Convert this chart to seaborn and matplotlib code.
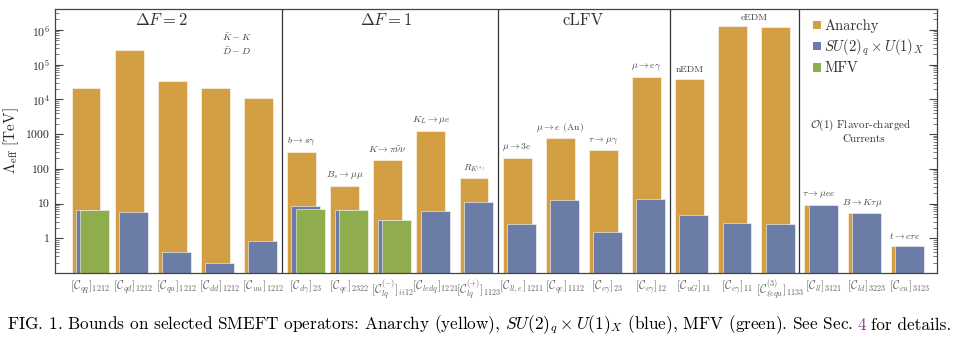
import numpy as np
import pandas as pd
import matplotlib
matplotlib.use("Agg")
import matplotlib.pyplot as plt
import seaborn as sns
from matplotlib.patches import Patch
from matplotlib.ticker import FixedLocator, LogLocator, NullFormatter

nan = np.nan

operators = [
    r"$[\mathcal{C}_{qq}]_{1212}$", r"$[\mathcal{C}_{qd}]_{1212}$", r"$[\mathcal{C}_{qu}]_{1212}$",
    r"$[\mathcal{C}_{dd}]_{1212}$", r"$[\mathcal{C}_{uu}]_{1212}$",
    r"$[\mathcal{C}_{d\gamma}]_{23}$", r"$[\mathcal{C}_{qe}]_{2322}$", r"$[\mathcal{C}^{(-)}_{lq}]_{ii12}$",
    r"$[\mathcal{C}_{ledq}]_{1221}$", r"$[\mathcal{C}^{(+)}_{lq}]_{1123}$",
    r"$[\mathcal{C}_{ll,e}]_{1211}$", r"$[\mathcal{C}_{qe}]_{1112}$", r"$[\mathcal{C}_{e\gamma}]_{23}$",
    r"$[\mathcal{C}_{e\gamma}]_{12}$",
    r"$[\mathcal{C}_{uG}]_{11}$", r"$[\mathcal{C}_{e\gamma}]_{11}$", r"$[\mathcal{C}^{(3)}_{\ell equ}]_{1133}$",
    r"$[\mathcal{C}_{ll}]_{3121}$", r"$[\mathcal{C}_{ld}]_{3223}$", r"$[\mathcal{C}_{eu}]_{3123}$",
]
anarchy = [2.1e4, 2.7e5, 3.3e4, 2.1e4, 1.1e4,
           300, 32, 178, 1200, 53,
           208, 750, 337, 4.4e4,
           3.9e4, 1.26e6, 1.18e6,
           9.1, 5.2, 0.6]
su2_u1 = [6.5, 5.7, 0.40, 0.19, 0.86,
          8.7, 6.5, 3.3, 6.3, 11,
          2.6, 13, 1.55, 13.8,
          4.7, 2.7, 2.5,
          9.1, 5.2, 0.6]
mfv = [6.5, nan, nan, nan, nan,
       6.9, 6.5, 3.3, nan, nan,
       nan, nan, nan, nan,
       nan, nan, nan,
       nan, nan, nan]

group_sizes = [5, 5, 4, 3, 3]
group_titles = [r"$\Delta F = 2$", r"$\Delta F = 1$", "cLFV"]
process_labels = [
    (5, r"$b\to s\gamma$"), (6, r"$B_s\to\mu\mu$"), (7, r"$K\to\pi\bar{\nu}\nu$"),
    (8, r"$K_L\to\mu e$"), (9, r"$R_{K^{(*)}}$"), (10, r"$\mu\to 3e$"),
    (11, r"$\mu\to e$ (Au)"), (12, r"$\tau\to\mu\gamma$"), (13, r"$\mu\to e\gamma$"),
    (14, "nEDM"), (15.5, "eEDM"), (17, r"$\tau\to\mu ee$"),
    (18, r"$B\to K\tau\mu$"), (19, r"$t\to c\tau e$"),
]
series_names = ["Anarchy", r"$SU(2)_q\times U(1)_X$", "MFV"]
series_colors = ["#D49E42", "#6B7DA6", "#8FAD4C"]

sns.set_theme(style="white")
plt.rcParams["font.family"] = ["cmr10", "DejaVu Serif"]
plt.rcParams["mathtext.fontset"] = "cm"
plt.rcParams["axes.formatter.use_mathtext"] = True
plt.rcParams["axes.unicode_minus"] = False

fig = plt.figure(figsize=(9.6, 3.44), dpi=100)
ax = fig.add_axes([55 / 960, 1 - 273 / 344, 882 / 960, 264 / 344])

idx = np.arange(len(operators))
offsets = [0.0, 0.1, 0.2]
for vals, off, col in zip([anarchy, su2_u1, mfv], offsets, series_colors):
    df = pd.DataFrame({"x": idx + off, "y": vals}).dropna()
    sns.barplot(data=df, x="x", y="y", native_scale=True, color=col, width=0.67,
                errorbar=None, saturation=1, edgecolor=(1, 1, 1, 0.55), linewidth=0.7, ax=ax)

ax.set_yscale("log")
ax.set_ylim(0.1, 4e6)
ax.set_xlim(-0.72, 19.74)
ax.set_xlabel("")
ax.set_ylabel(r"$\Lambda_{\rm eff}$ [TeV]", fontsize=11, labelpad=4)

ax.set_xticks(idx + 0.1)
ax.set_xticklabels(operators, fontsize=8.5, color="#666666")
ax.tick_params(axis="x", length=0, pad=4)

majors = [1, 10, 100, 1000, 1e4, 1e5, 1e6]
ax.yaxis.set_major_locator(FixedLocator(majors))
ax.set_yticklabels(["1", "10", "100", "1000", r"$10^4$", r"$10^5$", r"$10^6$"], fontsize=8.5)
ax.yaxis.set_minor_locator(LogLocator(base=10, subs=np.arange(2, 10), numticks=20))
ax.yaxis.set_minor_formatter(NullFormatter())
ax.tick_params(axis="y", which="major", direction="in", length=6, width=0.8,
               left=True, right=True, color="#444444")
ax.tick_params(axis="y", which="minor", direction="in", length=3, width=0.5,
               left=True, right=True, color="#444444")
for s in ax.spines.values():
    s.set_color("#444444")
    s.set_linewidth(0.9)

bounds = np.cumsum(group_sizes)[:-1] - 0.45
for b in bounds:
    ax.axvline(b, color="#333333", lw=0.9)

title_x = [0.121, 0.376, 0.599]
for tx, tt in zip(title_x, group_titles):
    ax.text(tx, 0.958, tt, transform=ax.transAxes, ha="center", va="center",
            fontsize=12, color="#333333")

ax.text(0.206, 0.894, r"$\bar{K}-K$", transform=ax.transAxes, ha="center", va="center",
        fontsize=7, color="#444444")
ax.text(0.206, 0.841, r"$\bar{D}-D$", transform=ax.transAxes, ha="center", va="center",
        fontsize=7, color="#444444")
ax.text(0.913, 0.561, r"$\mathcal{O}(1)$ Flavor-charged", transform=ax.transAxes,
        ha="center", va="center", fontsize=8, color="#333333")
ax.text(0.917, 0.508, "Currents", transform=ax.transAxes,
        ha="center", va="center", fontsize=8, color="#333333")

for pos, txt in process_labels:
    lo = int(np.floor(pos))
    hi = int(np.ceil(pos))
    top = max(anarchy[lo], anarchy[hi])
    ax.annotate(txt, (pos, top), xytext=(0, 3.5), textcoords="offset points",
                ha="center", va="bottom", fontsize=7, color="#444444")

handles = [Patch(facecolor=c, edgecolor="none") for c in series_colors]
leg = ax.legend(handles, series_names, loc="upper left", bbox_to_anchor=(0.848, 1.0),
                frameon=False, fontsize=10.5, handlelength=0.55, handleheight=0.55,
                handletextpad=0.2, labelspacing=0.28, borderaxespad=0.3)
for t in leg.get_texts():
    t.set_color("#333333")

# caption
cap_y = 1 - 325 / 344
parts = ["FIG. 1. Bounds on selected SMEFT operators: Anarchy (yellow), "
         r"$SU(2)_q\times U(1)_X$ (blue), MFV (green). See Sec.", "4", "for details."]
cols = ["black", "#8B3A8B", "black"]
fig.canvas.draw()
renderer = fig.canvas.get_renderer()
x0 = 7 / 960
gap = 4.5 / 960
for p, c in zip(parts, cols):
    t = fig.text(x0, cap_y, p, fontsize=12.4, color=c, ha="left", va="center")
    bb = t.get_window_extent(renderer=renderer)
    x0 = bb.x1 / fig.bbox.width + gap

fig.savefig("out.png", dpi=100)
